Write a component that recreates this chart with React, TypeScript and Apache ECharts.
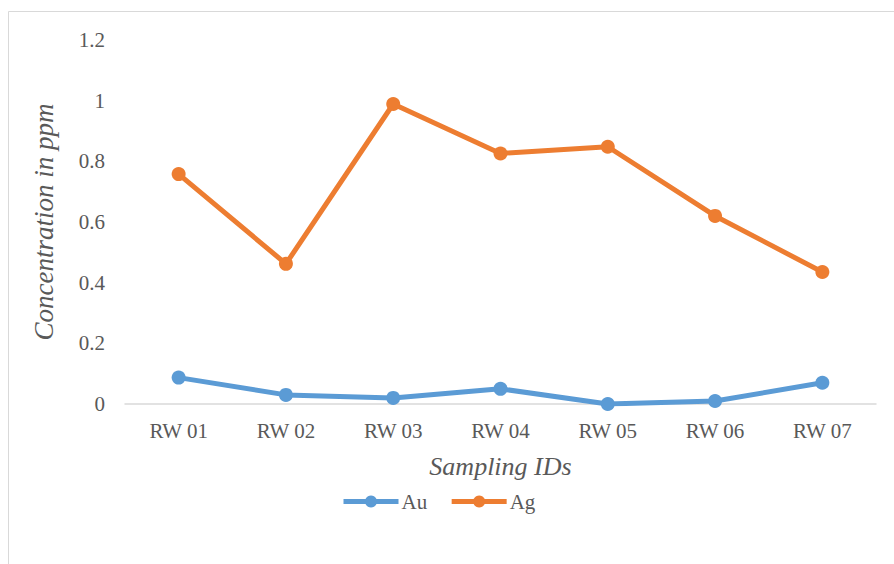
import React, { useEffect, useRef } from "react";
import * as echarts from "echarts";

const categories = ["RW 01", "RW 02", "RW 03", "RW 04", "RW 05", "RW 06", "RW 07"];
const auValues = [0.087, 0.03, 0.02, 0.05, 0.0, 0.01, 0.07];
const agValues = [0.758, 0.462, 0.989, 0.826, 0.848, 0.62, 0.435];
const yTicks = { min: 0, max: 1.2, interval: 0.2 };

export default function App() {
  const ref = useRef<HTMLDivElement>(null);
  useEffect(() => {
    if (!ref.current) return;
    const chart = echarts.init(ref.current, undefined, { renderer: "svg" });
    const font = "Times New Roman, Liberation Serif, DejaVu Serif, serif";
    chart.setOption({
      animation: false,
      backgroundColor: "#ffffff",
      textStyle: { fontFamily: font },
      graphic: [
        {
          type: "rect",
          shape: { x: 8.5, y: 11.5, width: 900, height: 600 },
          style: { fill: "none", stroke: "#d9d9d9", lineWidth: 1 },
          silent: true,
        },
      ],
      grid: { left: 125, right: 18, top: 40, height: 364 },
      legend: {
        left: 336,
        top: 486,
        itemWidth: 55,
        itemHeight: 15,
        itemGap: 22,
        lineStyle: { width: 5 },
        textStyle: { fontFamily: font, fontSize: 21, color: "#595959", padding: [0, 0, 0, -2] },
        data: ["Au", "Ag"],
      },
      xAxis: {
        type: "category",
        data: categories,
        boundaryGap: true,
        axisLine: { lineStyle: { color: "#d9d9d9", width: 1.5 } },
        axisTick: { show: false },
        axisLabel: { fontFamily: font, fontSize: 21, color: "#595959", margin: 16 },
        name: "Sampling IDs",
        nameLocation: "middle",
        nameGap: 49,
        nameTextStyle: { fontFamily: font, fontSize: 26, fontStyle: "italic", color: "#595959" },
      },
      yAxis: {
        type: "value",
        min: yTicks.min,
        max: yTicks.max,
        interval: yTicks.interval,
        axisLine: { show: false },
        axisTick: { show: false },
        splitLine: { show: false },
        axisLabel: { fontFamily: font, fontSize: 21, color: "#595959", margin: 20 },
        name: "Concentration in ppm",
        nameLocation: "middle",
        nameGap: 68,
        nameTextStyle: { fontFamily: font, fontSize: 27, fontStyle: "italic", color: "#595959" },
      },
      series: [
        {
          name: "Au",
          type: "line",
          data: auValues,
          symbol: "circle",
          symbolSize: 14,
          lineStyle: { width: 5, color: "#5b9bd5" },
          itemStyle: { color: "#5b9bd5" },
        },
        {
          name: "Ag",
          type: "line",
          data: agValues,
          symbol: "circle",
          symbolSize: 14,
          lineStyle: { width: 5, color: "#ed7d31" },
          itemStyle: { color: "#ed7d31" },
        },
      ],
    });
    return () => chart.dispose();
  }, []);
  return (
    <div
      ref={ref}
      style={{ position: "fixed", left: 0, top: 0, width: 894, height: 564 }}
    />
  );
}
